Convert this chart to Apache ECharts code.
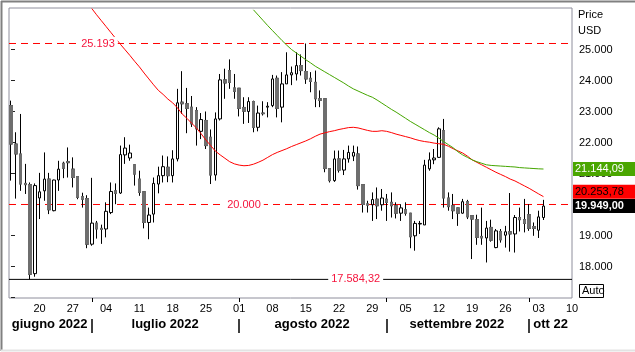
<!DOCTYPE html>
<html>
<head>
<meta charset="utf-8">
<script src="https://cdn.jsdelivr.net/npm/echarts@6/dist/echarts.min.js"></script>
<style>
  html, body { margin: 0; padding: 0; background: #fff; }
  #mychart { width: 635px; height: 352px; }
</style>
</head>
<body>
<div id="mychart"></div>
<script>
var DAY = 86400000
var firstDay = Date.UTC(2022, 5, 14)
// x axis counts days from 14 Jun 2022
var axisStart = -0.42
var axisEnd = 118
var priceMin = 16984
var priceMax = 26338

// daily candles from 14 Jun 2022: open, close, low, high (USD)
var candles = [
  [23190, 21950, 20770, 23350], [21950, 21630, 20190, 22330], [21630, 20660, 20440, 22920],
  [20680, 20640, 20340, 21310], [20640, 17750, 17584, 20710], [17770, 20610, 17670, 20680],
  [20210, 20410, 19530, 21020], [20440, 20820, 20120, 21680], [20820, 19830, 19690, 21020],
  [19800, 20790, 19780, 20800], [20790, 21140, 20440, 21410], [21330, 21170, 20850, 21380],
  [21380, 21350, 20870, 21840], [21140, 20870, 20550, 21520], [20900, 20230, 20170, 20900],
  [20250, 20170, 19900, 20380], [20190, 18720, 18590, 20300], [18720, 19400, 18670, 20860],
  [19400, 19210, 18900, 19470], [19230, 19200, 18730, 19350], [19210, 19780, 18940, 20070],
  [19740, 20420, 19690, 20710], [20440, 20360, 20010, 20680], [20370, 21610, 20340, 21900],
  [21600, 21820, 21310, 22170], [21500, 21660, 21410, 21930], [21280, 20980, 20610, 21280],
  [20820, 20390, 20280, 21090], [20410, 19420, 19230, 20410], [19420, 19660, 18880, 19900],
  [19690, 20680, 19420, 20870], [20660, 20930, 20360, 21220], [20930, 21220, 20710, 21580],
  [21200, 20930, 20720, 21550], [20930, 21470, 20710, 21750], [21470, 23280, 21390, 23730],
  [23300, 23250, 22920, 24300], [23250, 23100, 22300, 23760], [23140, 22600, 22500, 23500],
  [23030, 22440, 21900, 23140], [22360, 22740, 22110, 22950], [22710, 21900, 21790, 23000],
  [22170, 20950, 20660, 22420], [20950, 22760, 20770, 22970], [22760, 24020, 22710, 24210],
  [24020, 23920, 23410, 24380], [24320, 23940, 23730, 24680], [23760, 23650, 23410, 24210],
  [23750, 23100, 22840, 23750], [23130, 23010, 22600, 23460], [23000, 23320, 22630, 23460],
  [23320, 22490, 22330, 23350], [22490, 22950, 22360, 23190], [22950, 22930, 22870, 23330],
  [23140, 23170, 22810, 23300], [23190, 24050, 23140, 24180], [24070, 23100, 22810, 24160],
  [23140, 23890, 22650, 24270], [23890, 24180, 23890, 24910], [24180, 24250, 23850, 24450],
  [24210, 24480, 24000, 24910], [24480, 24320, 24160, 24840], [24290, 24050, 23890, 25193],
  [24070, 23970, 23620, 24270], [23940, 23410, 23140, 24320], [23410, 23360, 23140, 23680],
  [23410, 21160, 21040, 23410], [21160, 20770, 20710, 21160], [20770, 21470, 20730, 21740],
  [21470, 21110, 21030, 21740], [21110, 21470, 20950, 21760], [21470, 21680, 21350, 21900],
  [21560, 21680, 21400, 21900], [21630, 20610, 20480, 21870], [20640, 20000, 19740, 20640],
  [20020, 19980, 19740, 20120], [19990, 20160, 19470, 20390], [20170, 19960, 19530, 20550],
  [19990, 20210, 19800, 20500], [20170, 20070, 19470, 20340], [20070, 19960, 19580, 20390],
  [19960, 19720, 19550, 20070], [19720, 19890, 19470, 20010], [19830, 19720, 19640, 20070],
  [19720, 18960, 18590, 19720], [18990, 19390, 18510, 19470], [19370, 19390, 19050, 19470],
  [19340, 21270, 19340, 21440], [21150, 21440, 21090, 21680], [21440, 21500, 21300, 21790],
  [21520, 22440, 21500, 22490], [22380, 20210, 19900, 22760], [20210, 19930, 19800, 20390],
  [19960, 19800, 19530, 20340], [19890, 19720, 19310, 19900], [19720, 20090, 19700, 20180],
  [20090, 19600, 19530, 20150], [19640, 19530, 18240, 19640], [19510, 18940, 18700, 19670],
  [18970, 18920, 18700, 19900], [18920, 19240, 18130, 19470], [19260, 18850, 18800, 19510],
  [18610, 19150, 18590, 19210], [19130, 18860, 18770, 19210], [19010, 19120, 18610, 19310],
  [19120, 19050, 18480, 20370], [19050, 19580, 18450, 19660], [19580, 19510, 19130, 19900],
  [19510, 19390, 19100, 20180], [19670, 19230, 19150, 20010], [19290, 19230, 18990, 19420],
  [19170, 19600, 18920, 19800], [19580, 19949, 19500, 20150]
]

// red moving average, from day 17 (1 Jul)
var redStart = 17
var redMA = [
  26320, 26120, 25930, 25740, 25550, 25360, 25170, 24990, 24810, 24620,
  24440, 24240, 24050, 23860, 23680, 23550, 23400, 23280, 23120, 22920,
  22780, 22620, 22470, 22280, 22080, 21900, 21720, 21600, 21490, 21380,
  21310, 21270, 21250, 21260, 21300, 21360, 21430, 21520, 21610, 21680,
  21740, 21800, 21870, 21930, 21990, 22050, 22120, 22200, 22270, 22310,
  22350, 22380, 22420, 22450, 22480, 22490, 22470, 22430, 22390, 22360,
  22360, 22380, 22360, 22320, 22270, 22230, 22190, 22150, 22100, 22060,
  22030, 22010, 21980, 21960, 21940, 21880, 21800, 21730, 21660, 21560,
  21440, 21360, 21280, 21200, 21120, 21040, 20970, 20900, 20820, 20760,
  20680, 20600, 20520, 20430, 20340, 20253.78
]

// green moving average, from day 51 (4 Aug)
var greenStart = 51
var greenMA = [
  26280, 26110, 25940, 25770, 25610, 25450, 25290, 25140, 25000, 24890,
  24780, 24670, 24570, 24460, 24370, 24280, 24190, 24100, 24010, 23920,
  23820, 23730, 23660, 23590, 23520, 23460, 23370, 23270, 23170, 23070,
  22980, 22880, 22780, 22680, 22590, 22500, 22410, 22320, 22240, 22140,
  22030, 21930, 21830, 21700, 21600, 21520, 21440, 21380, 21330, 21280,
  21260, 21250, 21240, 21230, 21220, 21210, 21190, 21180, 21170, 21160,
  21150, 21144.09
]

var weekTicks = ['2022-06-20', '2022-06-27', '2022-07-04', '2022-07-11', '2022-07-18', '2022-07-25',
  '2022-08-01', '2022-08-08', '2022-08-15', '2022-08-22', '2022-08-29', '2022-09-05',
  '2022-09-12', '2022-09-19', '2022-09-26', '2022-10-03', '2022-10-10']
var monthStarts = ['2022-07-01', '2022-08-01', '2022-09-01', '2022-10-01']
var monthNames = ['giugno 2022', 'luglio 2022', 'agosto 2022', 'settembre 2022', 'ott 22']
var monthNameAt = ['2022-06-22T03:00Z', '2022-07-16T10:00Z', '2022-08-16T08:00Z', '2022-09-15T19:00Z', '2022-10-05T12:00Z']
var priceTicks = [17000, 18000, 19000, 20000, 21000, 22000, 23000, 24000, 25000]
var priceLabels = [18000, 19000, 20000, 21000, 22000, 23000, 24000, 25000]

var highLevel = 25193
var roundLevel = 20000
var lowLevel = 17584.32
var highLabelAt = '2022-07-02T07:00Z'
var roundLabelAt = '2022-08-02T00:00Z'
var lowLabelAt = '2022-08-25T12:00Z'
var lastClose = 19949
var lastRed = 20253.78
var lastGreen = 21144.09

var font = 'Liberation Sans, Arial, sans-serif'

function itNum(v, dec) {
  var parts = v.toFixed(dec).split('.')
  var intPart = parts[0].replace(/\B(?=(\d{3})+(?!\d))/g, '.')
  return dec ? intPart + ',' + parts[1] : intPart
}
function pad(n) { return n < 10 ? '0' + n : '' + n }
// date string -> day number on the x axis
function dayOf(s) { return Math.round((Date.parse(s) - firstDay) / DAY * 1000) / 1000 }

var ohlc = candles.map(function (c, i) { return [i, c[0], c[1], c[2], c[3]] })
// gray bodies drawn over the black outline of falling candles
var downBodies = []
candles.forEach(function (c, i) {
  if (c[1] < c[0]) downBodies.push([i, c[0], c[1], c[1], c[0]])
})
var redLine = redMA.map(function (v, i) { return [i + redStart, v] })
var greenLine = greenMA.map(function (v, i) { return [i + greenStart, v] })
var monthNameDays = monthNameAt.map(dayOf)

// horizontal level across the whole axis, drawn through the scales
function levelSeries(name, value, color, dash) {
  return {
    name: name, type: 'line', symbol: 'none', z: 2, silent: true,
    data: [[axisStart, value], [axisEnd, value]],
    lineStyle: { color: color, width: 1, type: dash }
  }
}

var levelLabel = {
  show: true, position: 'inside', color: '#f5143c', backgroundColor: '#fff',
  padding: [1, 3], fontSize: 11, fontFamily: font
}
var badgeLabel = {
  show: true, position: 'right', distance: 1, color: '#fff', fontSize: 11,
  fontFamily: font, padding: [2, 14, 1, 2], lineHeight: 11
}

var chart = echarts.init(document.getElementById('mychart'))
chart.setOption({
  animation: false,
  backgroundColor: '#fff',
  grid: {
    left: 9, right: 63, top: 8, bottom: 54,
    show: true, borderColor: '#8e8e9c', borderWidth: 1, backgroundColor: '#fff'
  },
  xAxis: [
    {
      type: 'value', min: axisStart, max: axisEnd, position: 'bottom',
      axisLine: { show: false },
      splitLine: { show: false },
      axisTick: { show: true, length: 4, customValues: monthStarts.map(dayOf), lineStyle: { color: '#000' } },
      axisLabel: {
        customValues: weekTicks.map(dayOf), margin: 5, fontSize: 11, fontFamily: font, color: '#000',
        hideOverlap: false,
        formatter: function (v) { return pad(new Date(firstDay + Math.round(v) * DAY).getUTCDate()) }
      }
    },
    {
      type: 'value', min: axisStart, max: axisEnd, position: 'bottom', offset: 21,
      axisLine: { show: false },
      splitLine: { show: false },
      axisTick: { show: true, length: 14, customValues: monthStarts.map(dayOf), lineStyle: { color: '#000', width: 1.5 } },
      axisLabel: {
        customValues: monthNameDays, margin: -1, fontSize: 13, fontWeight: 'bold',
        fontFamily: font, color: '#000', hideOverlap: false,
        formatter: function (v) {
          var k = -1
          monthNameDays.forEach(function (d, j) { if (Math.abs(d - v) < 0.01) k = j })
          return k >= 0 ? monthNames[k] : ''
        }
      }
    }
  ],
  yAxis: {
    type: 'value', position: 'right', min: priceMin, max: priceMax,
    splitLine: { show: false },
    axisLine: { show: false },
    axisTick: { show: true, length: 4, customValues: priceTicks, lineStyle: { color: '#222' } },
    axisLabel: {
      customValues: priceLabels, margin: 7, fontSize: 11, fontFamily: font, color: '#000',
      formatter: function (v) { return itNum(v, 0) }
    }
  },
  series: [
    levelSeries('massimo', highLevel, '#ff0000', [7, 5]),
    levelSeries('20000', roundLevel, '#ff0000', [7, 5]),
    levelSeries('minimo', lowLevel, '#000', 'solid'),
    {
      name: 'candles', type: 'candlestick', barWidth: 3, z: 3,
      encode: { x: 0, y: [1, 2, 3, 4] },
      itemStyle: { color: '#fff', color0: '#6e6e6e', borderColor: '#000', borderColor0: '#000', borderWidth: 1 },
      data: ohlc
    },
    {
      name: 'bodies', type: 'candlestick', barWidth: 3, z: 3,
      encode: { x: 0, y: [1, 2, 3, 4] },
      itemStyle: { color: '#fff', color0: '#6e6e6e', borderColor: '#000', borderColor0: '#6e6e6e', borderWidth: 1 },
      data: downBodies
    },
    {
      name: 'media rossa', type: 'line', data: redLine, symbol: 'none',
      lineStyle: { color: '#ff0000', width: 1 }, z: 4
    },
    {
      name: 'media verde', type: 'line', data: greenLine, symbol: 'none',
      lineStyle: { color: '#45a600', width: 1 }, z: 4
    },
    {
      name: 'ultimi', type: 'line', data: [], clip: false, z: 5,
      markPoint: {
        silent: true, symbol: 'rect', symbolSize: 0, label: badgeLabel,
        data: [
          { coord: [axisEnd, lastGreen], label: { backgroundColor: '#4aa600', formatter: itNum(lastGreen, 2) } },
          { coord: [axisEnd, lastRed], label: { backgroundColor: '#ff0000', color: '#000', offset: [0, -5], formatter: itNum(lastRed, 2) } },
          { coord: [axisEnd, lastClose], label: { backgroundColor: '#000', fontWeight: 'bold', formatter: itNum(lastClose, 2) } }
        ]
      }
    },
    {
      name: 'livelli', type: 'line', data: [], z: 6,
      markPoint: {
        silent: true, symbol: 'rect', symbolSize: 0, label: levelLabel,
        data: [
          { coord: [dayOf(highLabelAt), highLevel], label: { formatter: itNum(highLevel, 0) } },
          { coord: [dayOf(roundLabelAt), roundLevel], label: { formatter: itNum(roundLevel, 0) } },
          { coord: [dayOf(lowLabelAt), lowLevel], label: { formatter: itNum(lowLevel, 2) } }
        ]
      }
    }
  ],
  graphic: [
    { type: 'line', shape: { x1: 1.5, y1: 1, x2: 1.5, y2: 351 }, style: { stroke: '#808080', lineWidth: 2 }, silent: true },
    { type: 'line', shape: { x1: 1, y1: 1.5, x2: 635, y2: 1.5 }, style: { stroke: '#808080', lineWidth: 2 }, silent: true },
    { type: 'line', shape: { x1: 1, y1: 350.5, x2: 635, y2: 350.5 }, style: { stroke: '#e3e3e3', lineWidth: 2 }, silent: true },
    { type: 'text', left: 578, top: 9, style: { text: 'Price', font: '11px ' + font, fill: '#000' }, silent: true },
    { type: 'text', left: 578, top: 25, style: { text: 'USD', font: '11px ' + font, fill: '#000' }, silent: true },
    {
      type: 'group', left: 579, top: 284, silent: true,
      children: [
        { type: 'rect', shape: { x: 0.5, y: 0.5, width: 24, height: 13 }, style: { fill: '#fff', stroke: '#000', lineWidth: 1 } },
        { type: 'text', x: 3, y: 1, style: { text: 'Auto', font: '11px ' + font, fill: '#000' } }
      ]
    }
  ]
})
</script>
</body>
</html>
